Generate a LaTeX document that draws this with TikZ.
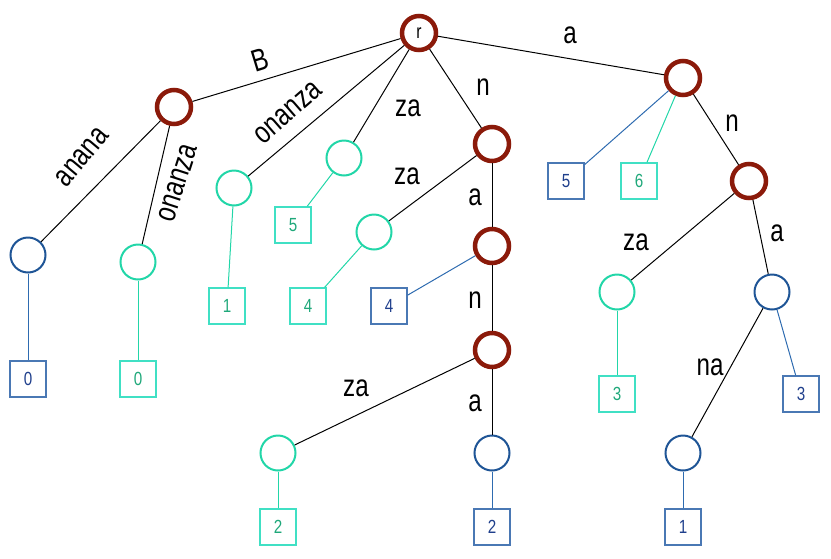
\documentclass[tikz,border=0pt]{standalone}
\usepackage{fontspec}
\setmainfont{Liberation Sans}
\definecolor{rdark}{HTML}{8B1A0A}
\definecolor{bcirc}{HTML}{1F5596}
\definecolor{tcirc}{HTML}{22D6A8}
\definecolor{bsq}{HTML}{4A78B4}
\definecolor{tsq}{HTML}{40E0C4}
\definecolor{bnum}{HTML}{1F3F8C}
\definecolor{tnum}{HTML}{1FA87A}
\definecolor{bline}{HTML}{2E6BB0}
\newcommand{\lbl}[1]{\scalebox{0.78}[1]{#1}}
\newcommand{\num}[1]{\scalebox{0.8}[1]{#1}}
\tikzset{
  inner/.style={circle, draw=rdark, line width=4.5pt, minimum size=34pt, inner sep=0pt},
  bleaf/.style={circle, draw=bcirc, line width=2pt, minimum size=35pt, inner sep=0pt},
  tleaf/.style={circle, draw=tcirc, line width=2pt, minimum size=35pt, inner sep=0pt},
  bbox/.style={rectangle, draw=bsq, line width=1.5pt, minimum size=36pt, inner sep=0pt, text=bnum, font=\fontsize{19}{19}\selectfont},
  tbox/.style={rectangle, draw=tsq, line width=1.5pt, minimum size=36pt, inner sep=0pt, text=tnum, font=\fontsize{19}{19}\selectfont},
  edge/.style={draw=black, line width=1pt},
  bedge/.style={draw=bline, line width=1pt},
  tedge/.style={draw=tcirc, line width=1pt},
  elabel/.style={font=\fontsize{31}{31}\selectfont, inner sep=0pt, text=black}
}
\begin{document}
\begin{tikzpicture}[x=1pt,y=-1pt]
\useasboundingbox (0,0) rectangle (831,558);
% inner (red) nodes
\node[inner, font=\fontsize{20}{20}\selectfont] (r) at (419,33) {\lbl{r}};
\node[inner] (B) at (174,107) {};
\node[inner] (A) at (683,78) {};
\node[inner] (N) at (492,144) {};
\node[inner] (NA) at (492,246) {};
\node[inner] (NAN) at (492,350) {};
\node[inner] (AN) at (749,181) {};
% blue leaves
\node[bleaf] (b1) at (28,255) {};
\node[bleaf] (b2) at (492,453) {};
\node[bleaf] (b3) at (772,292) {};
\node[bleaf] (b4) at (683,453) {};
% teal leaves
\node[tleaf] (t1) at (138,262) {};
\node[tleaf] (t2) at (234,188) {};
\node[tleaf] (t3) at (344,158) {};
\node[tleaf] (t4) at (374,232) {};
\node[tleaf] (t5) at (278,453) {};
\node[tleaf] (t6) at (617,292) {};
% squares
\node[bbox] (s0b) at (28,379) {\num{0}};
\node[tbox] (s0t) at (138,379) {\num{0}};
\node[tbox] (s1t) at (227,306) {\num{1}};
\node[tbox] (s4t) at (308,306) {\num{4}};
\node[bbox] (s4b) at (389,306) {\num{4}};
\node[tbox] (s5t) at (293,225) {\num{5}};
\node[bbox] (s5b) at (566,181) {\num{5}};
\node[tbox] (s6t) at (639,181) {\num{6}};
\node[tbox] (s2t) at (278,527) {\num{2}};
\node[bbox] (s2b) at (492,527) {\num{2}};
\node[tbox] (s3t) at (617,394) {\num{3}};
\node[bbox] (s3b) at (801,394) {\num{3}};
\node[bbox] (s1b) at (683,527) {\num{1}};
% black edges
\draw[edge] (r) -- (B);
\draw[edge] (B) -- (b1);
\draw[edge] (B) -- (t1);
\draw[edge] (r) -- (t2);
\draw[edge] (r) -- (t3);
\draw[edge] (r) -- (N);
\draw[edge] (r) -- (A);
\draw[edge] (N) -- (t4);
\draw[edge] (N) -- (NA);
\draw[edge] (NA) -- (NAN);
\draw[edge] (NAN) -- (t5);
\draw[edge] (NAN) -- (b2);
\draw[edge] (A) -- (AN);
\draw[edge] (AN) -- (t6);
\draw[edge] (AN) -- (b3);
\draw[edge] (b3) -- (b4);
% leaf edges
\draw[bedge] (b1) -- (s0b);
\draw[tedge] (t1) -- (s0t);
\draw[tedge] (t2) -- (s1t);
\draw[tedge] (t3) -- (s5t);
\draw[tedge] (t4) -- (s4t);
\draw[bedge] (NA) -- (s4b);
\draw[tedge] (t5) -- (s2t);
\draw[bedge] (b2) -- (s2b);
\draw[bedge] (A) -- (s5b);
\draw[tedge] (A) -- (s6t);
\draw[tedge] (t6) -- (s3t);
\draw[bedge] (b3) -- (s3b);
\draw[bedge] (b4) -- (s1b);
% edge labels
\node[elabel, rotate=17] (lB) at (260,60) {\lbl{B}};
\node[elabel, rotate=50] (lanana) at (82,157) {\lbl{anana}};
\node[elabel, rotate=72] (lon1) at (178,183) {\lbl{onanza}};
\node[elabel, rotate=41] (lon2) at (288,113) {\lbl{onanza}};
\node[elabel] (lza1) at (408,108) {\lbl{za}};
\node[elabel] (lza2) at (407,176) {\lbl{za}};
\node[elabel] (ln1) at (483,87) {\lbl{n}};
\node[elabel] (la1) at (570,35) {\lbl{a}};
\node[elabel] (la2) at (475,197) {\lbl{a}};
\node[elabel] (ln2) at (475,300) {\lbl{n}};
\node[elabel] (la3) at (475,403) {\lbl{a}};
\node[elabel] (lza3) at (356,388) {\lbl{za}};
\node[elabel] (ln3) at (732,123) {\lbl{n}};
\node[elabel] (lza4) at (636,242) {\lbl{za}};
\node[elabel] (la4) at (777,233) {\lbl{a}};
\node[elabel] (lna) at (710,367) {\lbl{na}};
\end{tikzpicture}
\end{document}
